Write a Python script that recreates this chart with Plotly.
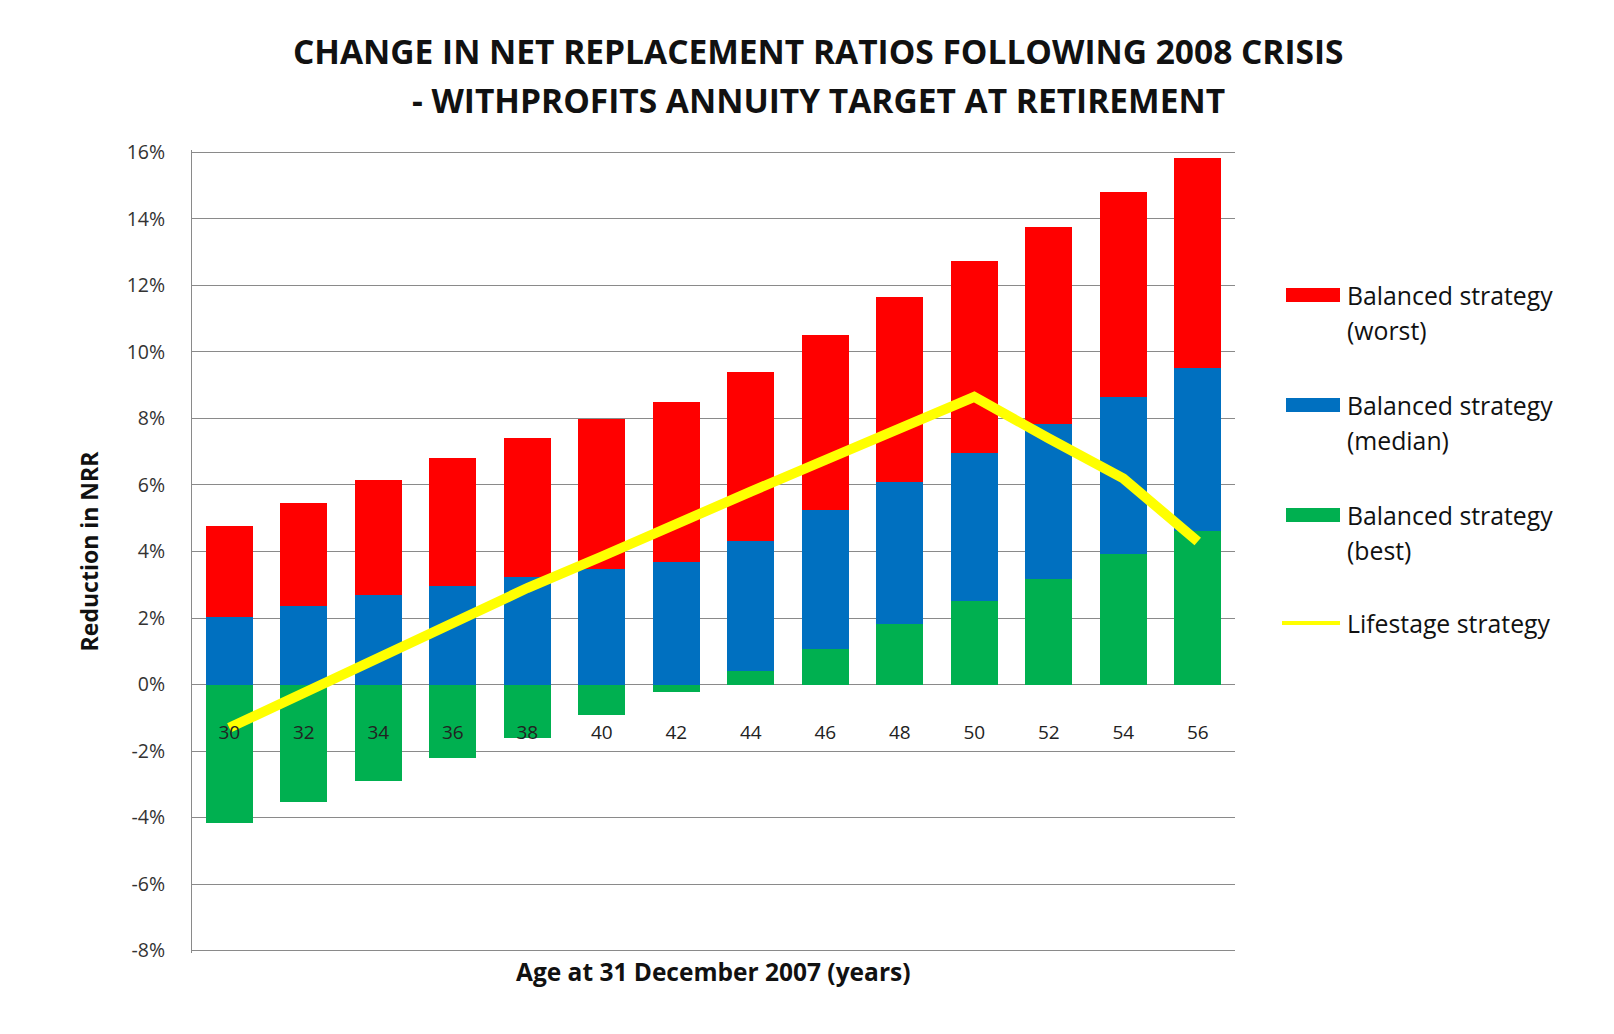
import plotly.graph_objects as go

# ---------------- data ----------------
AGES = [30, 32, 34, 36, 38, 40, 42, 44, 46, 48, 50, 52, 54, 56]
AGE_LABELS = [str(a) for a in AGES]

WORST = [4.76, 5.47, 6.14, 6.80, 7.42, 7.99, 8.48, 9.40, 10.52, 11.65, 12.72, 13.77, 14.81, 15.82]
MEDIAN = [2.03, 2.35, 2.68, 2.96, 3.23, 3.47, 3.67, 4.31, 5.24, 6.09, 6.97, 7.83, 8.65, 9.53]
BEST = [-4.16, -3.54, -2.89, -2.22, -1.61, -0.93, -0.23, 0.42, 1.08, 1.81, 2.51, 3.18, 3.92, 4.61]
LIFESTAGE = [-1.3, -0.25, 0.8, 1.85, 2.9, 3.85, 4.85, 5.8, 6.75, 7.7, 8.65, 7.4, 6.2, 4.3]

Y_TICKS = [-8, -6, -4, -2, 0, 2, 4, 6, 8, 10, 12, 14, 16]
Y_TICK_LABELS = ["-8%", "-6%", "-4%", "-2%", "0%", "2%", "4%", "6%", "8%", "10%", "12%", "14%", "16%"]

NAMES = ["Balanced strategy (worst)", "Balanced strategy (median)",
         "Balanced strategy (best)", "Lifestage strategy"]
LEGEND_LINES = [["Balanced strategy", "(worst)"], ["Balanced strategy", "(median)"],
                ["Balanced strategy", "(best)"], ["Lifestage strategy"]]
TITLE_LINES = ["CHANGE IN NET REPLACEMENT RATIOS FOLLOWING 2008 CRISIS",
               "- WITHPROFITS ANNUITY TARGET AT RETIREMENT"]
X_TITLE = "Age at 31 December 2007 (years)"
Y_TITLE = "Reduction in NRR"

# ---------------- style ----------------
RED, BLUE, GREEN, YELLOW = "#FF0000", "#0070C0", "#00B050", "#FFFF00"
FONT = "Open Sans"
GRID = "#8a8a8a"
W, H = 1614, 1034
ML, MR, MT, MB = 192, 379, 150, 81
Y_RANGE = [-8.07, 16.07]


def px_x(x):
    return (x - ML) / (W - ML - MR)


def px_y(y):
    return (H - MB - y) / (H - MT - MB)


BAR_W = 1.27

fig = go.Figure()
for vals, col, name in [(WORST, RED, NAMES[0]), (MEDIAN, BLUE, NAMES[1]), (BEST, GREEN, NAMES[2])]:
    fig.add_trace(go.Bar(x=AGES, y=vals, name=name, width=BAR_W,
                         marker=dict(color=col, line=dict(width=0)), opacity=1,
                         showlegend=False))
fig.add_trace(go.Scatter(x=AGES, y=LIFESTAGE, name=NAMES[3], mode="lines",
                         line=dict(color=YELLOW, width=10), showlegend=False))

annotations = []
# title
for txt, yc in zip(TITLE_LINES, [51, 100]):
    annotations.append(dict(text=txt, xref="paper", yref="paper", x=px_x(818), y=px_y(yc),
                            xanchor="center", yanchor="middle", showarrow=False,
                            font=dict(family=FONT, size=33.5, color="#111111", weight="bold")))
# x title
annotations.append(dict(text=X_TITLE, xref="paper", yref="paper", x=px_x(713), y=px_y(971),
                        xanchor="center", yanchor="middle", showarrow=False,
                        font=dict(family=FONT, size=24.5, color="#111111", weight="bold")))
# legend
shapes = []
swatch_y = [295, 405, 515]
for i, col in enumerate([RED, BLUE, GREEN]):
    yc = swatch_y[i]
    shapes.append(dict(type="rect", xref="paper", yref="paper",
                       x0=px_x(1286), x1=px_x(1340), y0=px_y(yc - 7), y1=px_y(yc + 7),
                       fillcolor=col, line=dict(width=0)))
    for j, line_txt in enumerate(LEGEND_LINES[i]):
        annotations.append(dict(text=line_txt, xref="paper", yref="paper",
                                x=px_x(1345), y=px_y(yc + 35 * j), xanchor="left", yanchor="middle",
                                showarrow=False, font=dict(family=FONT, size=24.8, color="#111111")))
shapes.append(dict(type="line", xref="paper", yref="paper",
                   x0=px_x(1282), x1=px_x(1340), y0=px_y(623), y1=px_y(623),
                   line=dict(color=YELLOW, width=4)))
annotations.append(dict(text=LEGEND_LINES[3][0], xref="paper", yref="paper",
                        x=px_x(1345), y=px_y(623), xanchor="left", yanchor="middle",
                        showarrow=False, font=dict(family=FONT, size=24.8, color="#111111")))

fig.update_layout(
    width=W, height=H,
    margin=dict(l=ML, r=MR, t=MT, b=MB, autoexpand=False),
    paper_bgcolor="white", plot_bgcolor="white",
    barmode="overlay", bargap=0,
    showlegend=False,
    font=dict(family=FONT, color="#333333"),
    annotations=annotations, shapes=shapes,
    xaxis=dict(range=[29, 57], tickvals=AGES, ticktext=AGE_LABELS,
               anchor="free", position=(0 - Y_RANGE[0]) / (Y_RANGE[1] - Y_RANGE[0]),
               showgrid=False, zeroline=False,
               showline=False, ticks="", ticklabelstandoff=34,
               tickfont=dict(family=FONT, size=19, color="#222222")),
    yaxis=dict(range=Y_RANGE, tickvals=Y_TICKS, ticktext=Y_TICK_LABELS,
               showgrid=True, gridcolor=GRID, gridwidth=1, zeroline=False,
               showline=True, linecolor=GRID, linewidth=1, ticks="",
               ticklabelstandoff=22,
               tickfont=dict(family=FONT, size=19.5, color="#333333"),
               title=dict(text=Y_TITLE, standoff=21,
                          font=dict(family=FONT, size=23, color="#111111", weight="bold"))),
)

fig.write_html("out.html")
